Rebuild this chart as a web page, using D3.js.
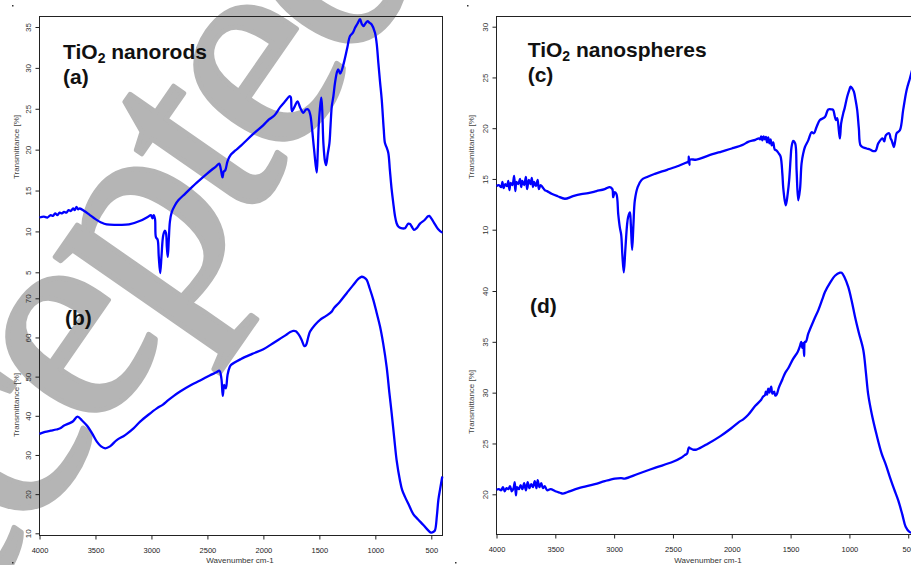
<!DOCTYPE html>
<html><head><meta charset="utf-8">
<script src="https://cdn.jsdelivr.net/npm/d3@7"></script>
<style>body{margin:0;background:#fff}svg{display:block}</style>
</head><body><svg id="c" width="911" height="565"></svg>
<script>
// ---------- DATA ----------
const xTicks = [4000, 3500, 3000, 2500, 2000, 1500, 1000, 500];
const ticksA = [5, 10, 15, 20, 25, 30, 35];
const ticksB = [10, 20, 30, 40, 50, 60, 70];
const ticksC = [10, 15, 20, 25, 30];
const ticksD = [20, 25, 30, 35, 40];
const titleLeft = "nanorods";
const titleRight = "nanospheres";
const labels = ["(a)", "(b)", "(c)", "(d)"];

// (a) TiO2 nanorods, upper trace
const waveA = [4000,3960,3930,3900,3880,3860,3840,3820,3800,3780,3760,3740,3720,3700,3685,3670,3655,3640,3600,3550,3500,3450,3400,3300,3200,3100,3030,3005,2990,2980,2968,2960,2945,2935,2922,2910,2895,2880,2870,2862,2854,2845,2835,2820,2790,2760,2700,2600,2500,2420,2395,2380,2365,2355,2340,2320,2290,2250,2200,2100,2000,1950,1900,1850,1800,1765,1755,1745,1720,1696,1670,1643,1620,1598,1580,1568,1547,1524,1515,1506,1495,1483,1475,1464,1450,1440,1425,1410,1400,1389,1375,1360,1340,1330,1315,1300,1271,1250,1226,1200,1181,1160,1137,1122,1107,1090,1071,1050,1033,1003,988,973,958,943,925,914,900,884,870,854,840,824,810,795,770,735,715,705,690,675,655,630,601,560,530,518,500,467,440,407,400];
const transA = [11.7,11.8,11.7,12.0,11.9,12.2,12.0,12.3,12.2,12.4,12.3,12.6,12.5,12.8,12.6,13.0,12.7,12.8,12.5,12.0,11.5,11.1,10.85,10.8,10.85,11.3,11.8,12.0,11.6,12.0,11.5,9.3,9.0,7.0,4.9,7.0,9.5,10.1,9.8,8.0,6.9,9.0,11.2,12.3,13.2,13.8,14.6,15.9,17.1,18.0,18.3,17.6,16.6,17.3,17.5,18.6,19.4,19.9,20.5,21.8,23.0,23.7,24.2,25.2,26.0,26.55,26.4,24.7,25.3,25.9,25.1,24.5,24.9,24.9,24.2,22.9,20.0,17.2,19.5,22.9,25.0,26.35,25.0,20.8,18.6,18.1,19.5,20.8,23.0,25.3,26.5,28.2,29.6,29.8,29.3,29.7,31.2,32.5,33.9,34.3,34.9,35.4,35.95,35.4,35.1,35.4,35.7,35.5,35.3,34.3,33.0,30.6,28.3,26.15,22.5,20.8,20.3,19.6,17.5,15.1,13.5,11.85,11.0,10.6,10.4,10.4,10.8,10.95,10.9,10.6,10.2,10.4,10.95,11.4,11.85,11.9,11.6,10.85,10.3,9.9,9.9];

// (b) TiO2 nanorods, lower trace
const waveB = [4000,3950,3900,3850,3815,3780,3740,3700,3661,3620,3577,3530,3488,3450,3413,3370,3310,3250,3220,3160,3101,3030,2952,2900,2850,2800,2744,2650,2565,2480,2420,2393,2375,2363,2350,2335,2320,2300,2289,2200,2100,2000,1900,1800,1760,1732,1710,1688,1660,1634,1620,1600,1583,1540,1494,1440,1390,1370,1320,1256,1200,1150,1122,1100,1077,1050,1018,990,958,930,899,875,854,830,810,780,760,735,700,661,620,571,530,503,480,467,450,437,420,402];
const transB = [35.4,35.9,36.2,36.5,36.8,37.5,38.0,38.6,39.8,38.8,37.5,35.5,33.4,32.2,31.7,32.2,33.8,34.8,35.4,36.8,38.5,40.2,41.9,42.8,44.0,45.1,46.2,47.8,49.0,50.3,51.1,51.5,49.5,45.1,47.9,47.0,50.5,52.5,53.0,54.5,55.8,57.0,58.8,60.6,61.4,61.7,61.6,60.9,59.5,57.8,58.0,60.0,61.5,63.2,64.5,65.5,66.6,67.5,69.0,71.3,73.3,75.0,75.5,75.3,74.7,72.5,69.6,66.5,62.8,58.5,52.5,46.0,40.6,34.0,28.7,23.5,21.0,19.3,17.2,14.9,13.6,12.1,10.8,10.2,10.4,10.8,14.5,18.5,21.5,24.5];

// (c) TiO2 nanospheres, upper trace
const waveC = [4000,3980,3960,3950,3940,3925,3910,3900,3890,3880,3865,3850,3840,3830,3815,3800,3790,3780,3765,3750,3740,3725,3710,3700,3690,3680,3665,3650,3640,3625,3610,3590,3570,3532,3480,3419,3350,3280,3221,3150,3080,3037,3015,3008,2995,2980,2965,2952,2940,2930,2918,2905,2890,2881,2866,2858,2847,2836,2824,2800,2767,2720,2654,2550,2450,2390,2370,2365,2360,2355,2300,2200,2087,2000,1900,1861,1800,1770,1760,1750,1740,1730,1720,1710,1700,1690,1680,1670,1660,1648,1635,1619,1600,1585,1570,1563,1550,1540,1525,1512,1500,1492,1478,1461,1449,1435,1420,1407,1393,1378,1350,1321,1302,1280,1251,1208,1180,1150,1138,1125,1115,1104,1090,1081,1070,1053,1040,1019,1000,990,975,962,948,934,920,905,880,854,825,798,776,755,718,704,690,662,650,641,630,622,610,599,571,543,514,486,460,430,400];
const transC = [14.3,14.4,14.2,14.7,14.1,14.5,14.3,14.8,13.9,14.6,14.4,15.3,13.8,14.7,14.5,15.0,14.2,14.8,14.4,15.2,14.0,14.9,14.5,15.1,14.2,14.7,14.3,14.9,14.0,14.4,14.2,13.9,13.8,13.55,13.3,13.05,13.3,13.5,13.6,13.8,14.0,14.2,14.0,13.2,13.7,13.5,11.5,10.25,9.5,7.5,5.8,8.0,10.5,11.25,11.7,10.5,8.0,10.5,12.9,14.2,14.9,15.2,15.5,15.9,16.3,16.6,16.7,17.2,16.4,16.9,16.9,17.3,17.7,18.0,18.4,18.65,18.85,19.0,18.9,19.2,18.8,19.2,18.9,19.15,18.6,19.1,18.5,18.9,18.3,18.6,17.9,17.8,17.5,17.2,15.5,14.2,12.9,12.4,13.5,14.9,17.0,18.15,18.75,18.5,15.85,12.9,14.0,16.5,17.5,18.15,18.8,19.6,19.5,20.1,20.8,21.1,21.85,21.85,21.8,21.2,20.8,21.0,19.8,19.0,20.5,21.45,22.0,23.1,23.8,24.1,23.9,23.6,22.8,21.8,20.0,18.3,18.1,18.0,17.9,17.75,17.8,18.5,19.0,18.7,19.3,19.5,19.0,18.8,18.4,18.15,18.8,19.5,19.8,21.8,23.75,24.9,26.0,27.0,27.5];

// (d) TiO2 nanospheres, lower trace
const waveD = [4000,3980,3960,3945,3930,3915,3900,3885,3870,3855,3845,3835,3825,3810,3795,3780,3765,3750,3735,3720,3705,3690,3675,3660,3650,3635,3620,3605,3590,3570,3540,3500,3460,3436,3400,3300,3164,3080,2994,2940,2909,2800,2654,2500,2430,2400,2380,2365,2350,2330,2300,2200,2100,2004,1940,1900,1862,1800,1750,1735,1718,1710,1700,1690,1680,1676,1665,1655,1640,1630,1619,1600,1570,1548,1520,1480,1440,1420,1410,1400,1392,1385,1378,1370,1350,1300,1265,1230,1208,1160,1123,1080,1066,1040,1010,980,953,920,882,860,840,811,770,726,690,656,620,585,550,522,490,460,430,400];
const transD = [20.45,20.5,20.4,20.7,20.3,20.6,20.5,20.8,20.3,20.6,21.2,19.9,20.7,20.5,20.9,20.5,21.1,20.4,21.2,20.6,21.0,20.7,21.3,20.6,21.4,20.7,21.1,20.6,20.8,20.4,20.5,20.3,20.15,20.07,20.2,20.6,21.0,21.3,21.55,21.6,21.55,22.0,22.6,23.2,23.6,23.85,24.0,24.6,24.5,24.4,24.4,25.0,25.7,26.5,27.1,27.4,27.8,28.7,29.3,29.6,29.75,30.1,29.8,30.4,30.0,30.2,30.6,29.9,30.1,29.7,29.8,30.5,31.3,31.9,32.4,33.3,34.0,34.6,35.0,34.4,34.9,33.6,35.0,35.0,35.8,37.2,38.1,39.2,39.9,40.9,41.5,41.8,41.8,41.3,40.4,39.0,37.5,35.9,34.2,32.0,29.8,27.95,25.9,24.0,22.9,21.7,20.5,19.4,18.0,16.8,16.3,16.2,16.2,16.2];

// ---------- DRAWING ----------
const svg = d3.select("#c");
const SANS = "'Liberation Sans', Arial, Helvetica, sans-serif";

// watermark: fitted so the two letter "e" bowls land where they sit in the picture
const wmTargets = [[78, 347], [266, 76]];
const wmFs = 100;
const wm = svg.append("text")
  .attr("font-family", "'Liberation Serif', 'Times New Roman', serif")
  .attr("font-size", wmFs)
  .attr("letter-spacing", -4)
  .attr("fill", "#b5b5b5")
  .attr("stroke", "#b5b5b5").attr("stroke-linejoin", "round")
  .text("Accepted");
(function fitWatermark() {
  const n = wm.node();
  const b1 = n.getExtentOfChar(3), b2 = n.getExtentOfChar(6);
  const P1 = [b1.x + 0.222 * wmFs, -0.225 * wmFs], P2 = [b2.x + 0.222 * wmFs, -0.225 * wmFs];
  const [T1, T2] = wmTargets;
  const ang = Math.atan2(T2[1] - T1[1], T2[0] - T1[0]) - Math.atan2(P2[1] - P1[1], P2[0] - P1[0]);
  const sc = Math.hypot(T2[0] - T1[0], T2[1] - T1[1]) / Math.hypot(P2[0] - P1[0], P2[1] - P1[1]);
  const c = Math.cos(ang), s = Math.sin(ang);
  const tx = T1[0] - sc * (c * P1[0] - s * P1[1]);
  const ty = T1[1] - sc * (s * P1[0] + c * P1[1]);
  wm.attr("transform", `translate(${tx},${ty}) rotate(${ang * 180 / Math.PI}) scale(${sc})`)
    .attr("stroke-width", 5 / sc);
})();

const zip = (w, t) => w.map((v, i) => [v, t[i]]);

function panel(cfg) {
  const g = svg.append("g");
  const x = d3.scaleLinear().domain([4000, 400]).range([cfg.x0, cfg.x1]);
  g.append("rect").attr("x", cfg.x0).attr("y", cfg.yTop)
    .attr("width", cfg.x1 - cfg.x0).attr("height", cfg.yBot - cfg.yTop)
    .attr("fill", "none").attr("stroke", "#222").attr("stroke-width", 1);
  const xa = g.append("g").attr("transform", `translate(0,${cfg.yBot})`)
    .call(d3.axisBottom(x).tickValues(xTicks).tickFormat(d3.format("d"))
      .tickSize(4).tickSizeOuter(0).tickPadding(8));
  xa.select(".domain").remove();
  xa.selectAll("text").attr("font-family", SANS).attr("font-size", 7.5).attr("fill", "#222");
  xa.selectAll("line").attr("stroke", "#222");
  g.append("text").attr("x", cfg.xlabX).attr("y", 563).attr("text-anchor", "middle")
    .attr("font-family", SANS).attr("font-size", 8).attr("fill", "#333").text("Wavenumber cm-1");

  cfg.subs.forEach(s => {
    const y = d3.scaleLinear().domain(s.dom).range(s.rng);
    const ya = g.append("g").attr("transform", `translate(${cfg.x0},0)`)
      .call(d3.axisLeft(y).tickValues(s.ticks).tickSize(4).tickSizeOuter(0));
    ya.select(".domain").remove();
    ya.selectAll("line").attr("stroke", "#222");
    ya.selectAll("text").attr("x", null).attr("dy", null)
      .attr("transform", "translate(-8.5,0) rotate(-90)")
      .attr("text-anchor", "middle")
      .attr("font-family", SANS).attr("font-size", 8).attr("fill", "#333");
    g.append("text").attr("transform", `translate(${cfg.ylabX},${s.ylabY}) rotate(-90)`)
      .attr("text-anchor", "middle").attr("font-family", SANS).attr("font-size", 8)
      .attr("fill", "#444").text("Transmittance [%]");
    const line = d3.line().x(d => x(d[0])).y(d => y(d[1])).curve(d3.curveCatmullRom.alpha(0.5));
    g.append("path").datum(zip(s.w, s.t)).attr("d", line)
      .attr("fill", "none").attr("stroke", "#0000ff").attr("stroke-width", 2.3)
      .attr("stroke-linejoin", "round");
  });
}

panel({
  x0: 39.5, x1: 442.5, yTop: 16.5, yBot: 535.5, xlabX: 240, ylabX: 18.5,
  subs: [
    { dom: [5, 35], rng: [272.3, 27], ticks: ticksA, w: waveA, t: transA, ylabY: 147 },
    { dom: [10, 70], rng: [533.3, 298.3], ticks: ticksB, w: waveB, t: transB, ylabY: 405 }
  ]
});
panel({
  x0: 496.5, x1: 920, yTop: 16.5, yBot: 534.5, xlabX: 708, ylabX: 474,
  subs: [
    { dom: [10, 30], rng: [229.7, 26.7], ticks: ticksC, w: waveC, t: transC, ylabY: 147 },
    { dom: [20, 40], rng: [494.3, 291], ticks: ticksD, w: waveD, t: transD, ylabY: 402 }
  ]
});

function title(xp, yp, word) {
  const t = svg.append("text").attr("x", xp).attr("y", yp)
    .attr("font-family", SANS).attr("font-weight", "bold").attr("font-size", 21).attr("fill", "#111");
  t.append("tspan").text("TiO");
  t.append("tspan").attr("font-size", 14).attr("dy", 4).text("2");
  t.append("tspan").attr("dy", -4).text(" " + word);
}
title(63, 59, titleLeft);
title(527.7, 56.7, titleRight);
const labPos = [[63, 83.5], [65, 325], [527.7, 81.7], [530, 313.3]];
labels.forEach((l, i) => {
  svg.append("text").attr("x", labPos[i][0]).attr("y", labPos[i][1])
    .attr("font-family", SANS).attr("font-weight", "bold").attr("font-size", 21)
    .attr("fill", "#111").text(l);
});
[[12, 5], [467, 5], [12, 562], [455, 562]].forEach(p => {
  svg.append("rect").attr("x", p[0]).attr("y", p[1]).attr("width", 1.5).attr("height", 1.5).attr("fill", "#333");
});
</script></body></html>
